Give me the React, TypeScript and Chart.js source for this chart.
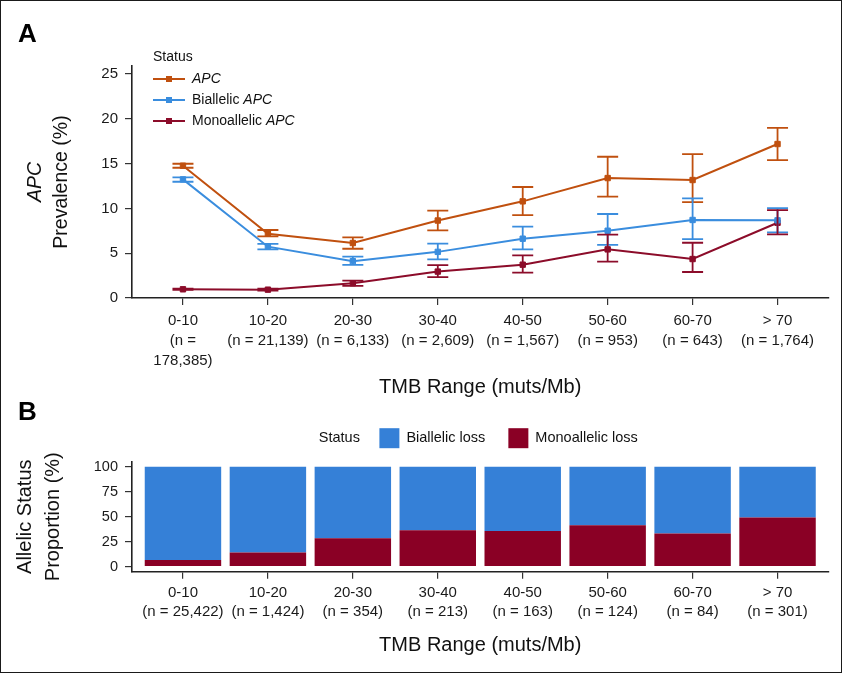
import React, { useEffect, useRef } from 'react';
import { Chart, registerables } from 'chart.js';

Chart.register(...registerables);

const FONT = "'Liberation Sans', Arial, Helvetica, sans-serif";

// ---- data ----
const categories = ['0-10', '10-20', '20-30', '30-40', '40-50', '50-60', '60-70', '> 70'];
const prevalenceCounts = ['178,385', '21,139', '6,133', '2,609', '1,567', '953', '643', '1,764'];
const allelicCounts = ['25,422', '1,424', '354', '213', '163', '124', '84', '301'];

const seriesLabels = ['APC', 'Biallelic APC', 'Monoallelic APC'];
const apcValues = [14.77, 7.18, 6.14, 8.65, 10.79, 13.39, 13.17, 17.19];
const apcLow = [14.54, 6.89, 5.5, 7.55, 9.26, 11.31, 10.71, 15.4];
const apcHigh = [14.99, 7.59, 6.77, 9.76, 12.39, 15.77, 16.07, 19.0];
const biValues = [13.24, 5.73, 4.11, 5.15, 6.62, 7.51, 8.71, 8.67];
const biLow = [12.98, 5.43, 3.7, 4.32, 5.43, 5.92, 6.58, 7.33];
const biHigh = [13.47, 6.04, 4.62, 6.08, 7.96, 9.38, 11.13, 10.04];
const monoValues = [0.97, 0.93, 1.65, 2.95, 3.72, 5.43, 4.35, 8.4];
const monoLow = [0.9, 0.83, 1.36, 2.33, 2.83, 4.05, 2.9, 7.11];
const monoHigh = [1.05, 1.03, 1.95, 3.68, 4.76, 7.07, 6.17, 9.82];

const lossLabels = ['Biallelic loss', 'Monoallelic loss'];
const biallelicLossPct = [93.3, 85.7, 71.5, 63.6, 64.2, 58.6, 66.8, 50.9];
const monoallelicLossPct = [6.7, 14.3, 28.5, 36.4, 35.8, 41.4, 33.2, 49.1];

const prevalenceTicks = [0, 5, 10, 15, 20, 25];
const proportionTicks = [0, 25, 50, 75, 100];

const COLORS = {
  apc: '#C0500F',
  bi: '#3A8DDE',
  mono: '#8C0C2A',
  biFill: '#3580D7',
  monoFill: '#8A0025',
};

function tickLines(cat: string, n: string) {
  const tail = `(n = ${n})`;
  return tail.length > 12 ? [cat, '(n =', `${n})`] : [cat, tail];
}

function drawRich(ctx: CanvasRenderingContext2D, text: string, x: number, y: number, size: number, align: 'left' | 'center') {
  const parts = text.split(/(APC)/).filter((p) => p.length);
  const fontFor = (p: string) => `${p === 'APC' ? 'italic ' : ''}${size}px ${FONT}`;
  let total = 0;
  for (const p of parts) {
    ctx.font = fontFor(p);
    total += ctx.measureText(p).width;
  }
  let cx = align === 'center' ? x - total / 2 : x;
  ctx.textAlign = 'left';
  for (const p of parts) {
    ctx.font = fontFor(p);
    ctx.fillText(p, cx, y);
    cx += ctx.measureText(p).width;
  }
  return total;
}

const errorBarPlugin = {
  id: 'errorBars',
  afterDatasetsDraw(chart: any) {
    const { ctx, scales } = chart;
    const xs = scales.x;
    const ys = scales.y;
    ctx.save();
    chart.data.datasets.forEach((ds: any) => {
      if (!ds.errorLow) return;
      ctx.strokeStyle = ds.borderColor;
      ctx.lineWidth = 1.8;
      ds.data.forEach((pt: any, i: number) => {
        const px = xs.getPixelForValue(pt.x);
        const lo = ys.getPixelForValue(ds.errorLow[i]);
        const hi = ys.getPixelForValue(ds.errorHigh[i]);
        const w = 10.5;
        ctx.beginPath();
        ctx.moveTo(px, lo);
        ctx.lineTo(px, hi);
        ctx.moveTo(px - w, lo);
        ctx.lineTo(px + w, lo);
        ctx.moveTo(px - w, hi);
        ctx.lineTo(px + w, hi);
        ctx.stroke();
      });
    });
    ctx.restore();
  },
};

const panelAPlugin = {
  id: 'panelA',
  afterDraw(chart: any) {
    const { ctx, chartArea: ca } = chart;
    ctx.save();
    ctx.fillStyle = '#000';
    ctx.font = `bold 26px ${FONT}`;
    ctx.textBaseline = 'alphabetic';
    ctx.textAlign = 'left';
    ctx.fillText('A', 18, 41.5);

    const cy = (ca.top + ca.bottom) / 2;
    ctx.fillStyle = '#111';
    ctx.textBaseline = 'middle';
    ['APC', 'Prevalence (%)'].forEach((line, i) => {
      ctx.save();
      ctx.translate(ca.left - 96 + i * 25.5, cy);
      ctx.rotate(-Math.PI / 2);
      drawRich(ctx, line, 0, 0, 19.5, 'center');
      ctx.restore();
    });

    const lx = ca.left + 21;
    ctx.fillStyle = '#111';
    ctx.font = `14px ${FONT}`;
    ctx.textAlign = 'left';
    ctx.fillText('Status', lx, ca.top - 9);
    chart.data.datasets.forEach((ds: any, i: number) => {
      const y = ca.top + 13 + i * 21;
      ctx.strokeStyle = ds.borderColor;
      ctx.lineWidth = 2;
      ctx.beginPath();
      ctx.moveTo(lx, y);
      ctx.lineTo(lx + 32, y);
      ctx.stroke();
      ctx.fillStyle = ds.borderColor;
      ctx.fillRect(lx + 16 - 3, y - 3, 6, 6);
      ctx.fillStyle = '#111';
      drawRich(ctx, ds.label, lx + 39, y, 14, 'left');
    });
    ctx.restore();
  },
};

const panelBPlugin = {
  id: 'panelB',
  afterDraw(chart: any) {
    const { ctx, chartArea: ca } = chart;
    ctx.save();
    ctx.fillStyle = '#000';
    ctx.font = `bold 26px ${FONT}`;
    ctx.textBaseline = 'alphabetic';
    ctx.textAlign = 'left';
    ctx.fillText('B', 18, 20);

    const size = 14.5;
    ctx.font = `${size}px ${FONT}`;
    ctx.textBaseline = 'middle';
    const items = lossLabels.map((lab) => {
      const ds = chart.data.datasets.find((d: any) => d.label === lab);
      return { lab, color: ds.backgroundColor, w: ctx.measureText(lab).width };
    });
    const statusW = ctx.measureText('Status').width;
    const box = 20;
    const gapStatus = 19.5;
    const gapText = 7;
    const gapItem = 23;
    let total = statusW + gapStatus;
    items.forEach((it, i) => {
      total += box + gapText + it.w + (i < items.length - 1 ? gapItem : 0);
    });
    let x = (ca.left + ca.right) / 2 - total / 2 - 2;
    const cy = ca.top - 23.5;
    ctx.fillStyle = '#111';
    ctx.fillText('Status', x, cy);
    x += statusW + gapStatus;
    items.forEach((it) => {
      ctx.fillStyle = it.color;
      ctx.fillRect(x, cy - box / 2, box, box);
      x += box + gapText;
      ctx.fillStyle = '#111';
      ctx.fillText(it.lab, x, cy);
      x += it.w + gapItem;
    });
    ctx.restore();
  },
};

const axisGrid = { drawOnChartArea: false, drawTicks: true, tickLength: 7, color: '#333', lineWidth: 1.2, offset: false };
const axisBorder = { display: true, color: '#222', width: 1.6 };

export default function App() {
  const refA = useRef<HTMLCanvasElement>(null);
  const refB = useRef<HTMLCanvasElement>(null);

  useEffect(() => {
    document.body.style.margin = '0';
    const pts = (arr: number[]) => arr.map((v, i) => ({ x: i, y: v }));
    const lineDs = (label: string, vals: number[], lo: number[], hi: number[], color: string) => ({
      label,
      data: pts(vals),
      errorLow: lo,
      errorHigh: hi,
      borderColor: color,
      backgroundColor: color,
      borderWidth: 2,
      pointStyle: 'rect',
      pointRadius: 3.8,
      pointBorderWidth: 1,
      pointBackgroundColor: color,
      pointBorderColor: color,
      tension: 0,
    });

    const chartA = new Chart(refA.current as HTMLCanvasElement, {
      type: 'line',
      data: {
        datasets: [
          lineDs(seriesLabels[0], apcValues, apcLow, apcHigh, COLORS.apc),
          lineDs(seriesLabels[1], biValues, biLow, biHigh, COLORS.bi),
          lineDs(seriesLabels[2], monoValues, monoLow, monoHigh, COLORS.mono),
        ] as any,
      },
      options: {
        animation: false,
        responsive: false,
        layout: { padding: { left: 0, top: 66, right: 14.5, bottom: 1 } },
        plugins: { legend: { display: false }, tooltip: { enabled: false } },
        scales: {
          x: {
            type: 'linear',
            min: -0.6,
            max: 7.6,
            offset: false,
            afterBuildTicks: (s: any) => {
              s.ticks = categories.map((_, i) => ({ value: i }));
            },
            afterFit: (s: any) => {
              s.height = 101;
            },
            grid: axisGrid,
            border: axisBorder,
            ticks: {
              autoSkip: false,
              maxRotation: 0,
              minRotation: 0,
              padding: 6,
              color: '#1a1a1a',
              font: { family: FONT, size: 15, lineHeight: 1.333 },
              callback: (v: any) => tickLines(categories[Number(v)], prevalenceCounts[Number(v)]),
            },
            title: {
              display: true,
              text: 'TMB Range (muts/Mb)',
              color: '#111',
              font: { family: FONT, size: 20, lineHeight: 1.2 },
              padding: 0,
            },
          },
          y: {
            type: 'linear',
            min: 0,
            max: 25.9,
            afterBuildTicks: (s: any) => {
              s.ticks = prevalenceTicks.map((v) => ({ value: v }));
            },
            afterFit: (s: any) => {
              s.width = 132;
            },
            grid: axisGrid,
            border: axisBorder,
            ticks: {
              padding: 7,
              color: '#1a1a1a',
              font: { family: FONT, size: 15 },
              callback: (v: any) => String(v),
            },
          },
        },
      } as any,
      plugins: [errorBarPlugin, panelAPlugin],
    });

    const chartB = new Chart(refB.current as HTMLCanvasElement, {
      type: 'bar',
      data: {
        datasets: [
          {
            label: lossLabels[1],
            data: pts(monoallelicLossPct),
            backgroundColor: COLORS.monoFill,
            borderWidth: 0,
            barPercentage: 0.9,
            categoryPercentage: 1,
            stack: 's',
          },
          {
            label: lossLabels[0],
            data: pts(biallelicLossPct),
            backgroundColor: COLORS.biFill,
            borderWidth: 0,
            barPercentage: 0.9,
            categoryPercentage: 1,
            stack: 's',
          },
        ] as any,
      },
      options: {
        animation: false,
        responsive: false,
        layout: { padding: { left: 12, top: 61.7, right: 14.5, bottom: 15.3 } },
        plugins: { legend: { display: false }, tooltip: { enabled: false } },
        scales: {
          x: {
            type: 'linear',
            min: -0.6,
            max: 7.6,
            offset: false,
            stacked: true,
            afterBuildTicks: (s: any) => {
              s.ticks = categories.map((_, i) => ({ value: i }));
            },
            afterFit: (s: any) => {
              s.height = 86;
            },
            grid: axisGrid,
            border: axisBorder,
            ticks: {
              autoSkip: false,
              maxRotation: 0,
              minRotation: 0,
              padding: 5,
              color: '#1a1a1a',
              font: { family: FONT, size: 15, lineHeight: 1.267 },
              callback: (v: any) => tickLines(categories[Number(v)], allelicCounts[Number(v)]),
            },
            title: {
              display: true,
              text: 'TMB Range (muts/Mb)',
              color: '#111',
              font: { family: FONT, size: 20, lineHeight: 1.2 },
              padding: 0,
            },
          },
          y: {
            type: 'linear',
            min: -5,
            max: 105,
            stacked: true,
            afterBuildTicks: (s: any) => {
              s.ticks = proportionTicks.map((v) => ({ value: v }));
            },
            afterFit: (s: any) => {
              s.width = 120;
            },
            grid: axisGrid,
            border: axisBorder,
            ticks: {
              padding: 7,
              color: '#1a1a1a',
              font: { family: FONT, size: 14.5 },
              callback: (v: any) => String(v),
            },
            title: {
              display: true,
              text: ['Allelic Status', 'Proportion (%)'],
              color: '#111',
              font: { family: FONT, size: 20, lineHeight: 1.38 },
              padding: 0,
            },
          },
        },
      } as any,
      plugins: [panelBPlugin],
    });

    return () => {
      chartA.destroy();
      chartB.destroy();
    };
  }, []);

  return (
    <div style={{ position: 'relative', width: 843, height: 673, background: '#fff' }}>
      <canvas ref={refA} width={843} height={400} style={{ position: 'absolute', left: 0, top: 0 }} />
      <canvas ref={refB} width={843} height={273} style={{ position: 'absolute', left: 0, top: 400 }} />
      <div
        style={{
          position: 'absolute',
          left: 0,
          top: 0,
          width: 842,
          height: 672.5,
          border: '1.5px solid #1a1a1a',
          boxSizing: 'border-box',
          pointerEvents: 'none',
        }}
      />
    </div>
  );
}
